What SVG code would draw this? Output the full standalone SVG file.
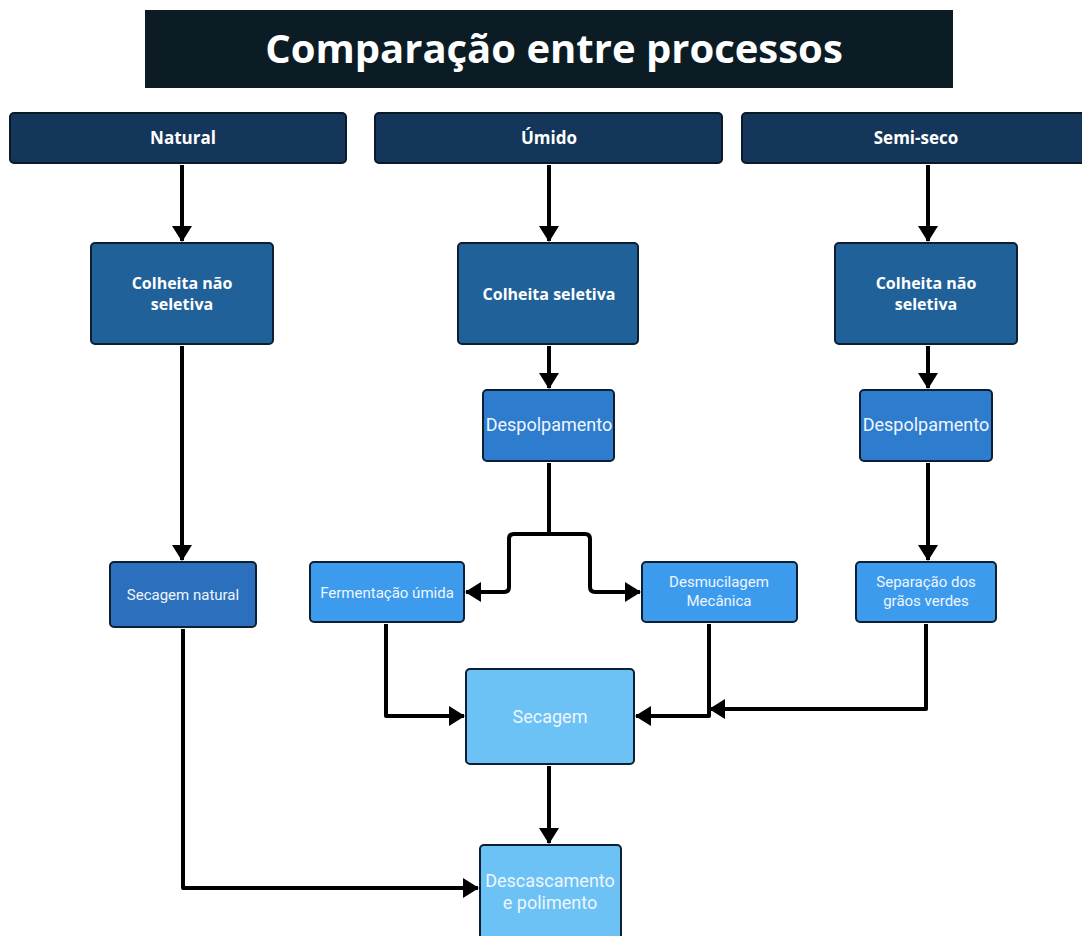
<svg xmlns="http://www.w3.org/2000/svg" width="1082" height="936" viewBox="0 0 1082 936">
<defs>
<marker id="ah" markerUnits="userSpaceOnUse" markerWidth="22" markerHeight="22" viewBox="0 0 22 22" refX="17" refY="11" orient="auto">
<path d="M2,1 L18,11 L2,21 Z" fill="#000"/>
</marker>
<style>
.hdr{fill:#14365a;stroke:#0a1a2a;stroke-width:2}
.c1{fill:#21619a;stroke:#0d1f33;stroke-width:2}
.c2{fill:#2e7ccd;stroke:#0d1f33;stroke-width:2}
.c3{fill:#2c6fbd;stroke:#0d1f33;stroke-width:2}
.c4{fill:#3d9bee;stroke:#0d1f33;stroke-width:2}
.c5{fill:#6cc2f4;stroke:#0d1f33;stroke-width:2}
.tb{font-family:"Open Sans",Lato,sans-serif;font-weight:bold;fill:#fff;text-anchor:middle}
.tn{font-family:Roboto,"Liberation Sans",sans-serif;fill:#eef6ff;text-anchor:middle}
.cn{fill:none;stroke:#000;stroke-width:4;stroke-linejoin:round}
</style>
</defs>
<rect width="1082" height="936" fill="#fff"/>
<g id="title">
<rect x="145" y="10" width="808" height="78" fill="#0b1c24"/>
<text x="554" y="63" class="tb" font-size="40">Comparação entre processos</text>
</g>
<g id="h-natural"><rect x="10" y="113" width="336" height="50" rx="4" class="hdr"/><text x="183" y="144" class="tb" font-size="17">Natural</text></g>
<g id="h-umido"><rect x="375" y="113" width="347" height="50" rx="4" class="hdr"/><text x="549" y="144" class="tb" font-size="17">Úmido</text></g>
<g id="h-semiseco"><rect x="742" y="113" width="345" height="50" rx="4" class="hdr"/><text x="916" y="144" class="tb" font-size="17">Semi-seco</text></g>
<g id="n-colheita1"><rect x="91" y="243" width="182" height="101" rx="4" class="c1"/><text x="182" y="289" class="tb" font-size="16">Colheita não</text><text x="182" y="310" class="tb" font-size="16">seletiva</text></g>
<g id="u-colheita"><rect x="458" y="243" width="180" height="101" rx="4" class="c1"/><text x="549" y="300" class="tb" font-size="16">Colheita seletiva</text></g>
<g id="s-colheita"><rect x="835" y="243" width="182" height="101" rx="4" class="c1"/><text x="926" y="289" class="tb" font-size="16">Colheita não</text><text x="926" y="310" class="tb" font-size="16">seletiva</text></g>
<g id="u-despolpamento"><rect x="483" y="390" width="131" height="71" rx="4" class="c2"/><text x="549" y="431" class="tn" font-size="18">Despolpamento</text></g>
<g id="s-despolpamento"><rect x="860" y="390" width="132" height="71" rx="4" class="c2"/><text x="926" y="431" class="tn" font-size="18">Despolpamento</text></g>
<g id="n-secagem"><rect x="110" y="562" width="146" height="65" rx="4" class="c3"/><text x="183" y="600" class="tn" font-size="15">Secagem natural</text></g>
<g id="u-fermentacao"><rect x="310" y="562" width="154" height="60" rx="4" class="c4"/><text x="387" y="598" class="tn" font-size="15">Fermentação úmida</text></g>
<g id="u-desmucilagem"><rect x="642" y="562" width="155" height="60" rx="4" class="c4"/><text x="719" y="587" class="tn" font-size="15">Desmucilagem</text><text x="719" y="606" class="tn" font-size="15">Mecânica</text></g>
<g id="s-separacao"><rect x="856" y="562" width="140" height="60" rx="4" class="c4"/><text x="926" y="587" class="tn" font-size="15">Separação dos</text><text x="926" y="606" class="tn" font-size="15">grãos verdes</text></g>
<g id="secagem"><rect x="466" y="669" width="168" height="95" rx="4" class="c5"/><text x="550" y="723" class="tn" font-size="18">Secagem</text></g>
<g id="descascamento"><rect x="480" y="845" width="141" height="100" rx="4" class="c5"/><text x="550" y="887" class="tn" font-size="18">Descascamento</text><text x="550" y="909" class="tn" font-size="18">e polimento</text></g>
<g id="connectors">
<path class="cn" d="M182,165 V241" marker-end="url(#ah)"/>
<path class="cn" d="M549,165 V241" marker-end="url(#ah)" stroke-width="5"/>
<path class="cn" d="M928,165 V241" marker-end="url(#ah)"/>
<path class="cn" d="M549,346 V388" marker-end="url(#ah)"/>
<path class="cn" d="M928,346 V388" marker-end="url(#ah)"/>
<path class="cn" d="M182,346 V560" marker-end="url(#ah)"/>
<path class="cn" d="M549,463 V534 H514 Q509,534 509,539 V587 Q509,592 504,592 H466" marker-end="url(#ah)"/>
<path class="cn" d="M549,534 H585 Q590,534 590,539 V587 Q590,592 595,592 H640" marker-end="url(#ah)"/>
<path class="cn" d="M928,463 V560" marker-end="url(#ah)"/>
<path class="cn" d="M386,624 V716 H464" marker-end="url(#ah)"/>
<path class="cn" d="M709,624 V716 H636" marker-end="url(#ah)"/>
<path class="cn" d="M926,624 V709 H710" marker-end="url(#ah)"/>
<path class="cn" d="M549,766 V843" marker-end="url(#ah)"/>
<path class="cn" d="M183,629 V888 H478" marker-end="url(#ah)"/>
</g>
</svg>
